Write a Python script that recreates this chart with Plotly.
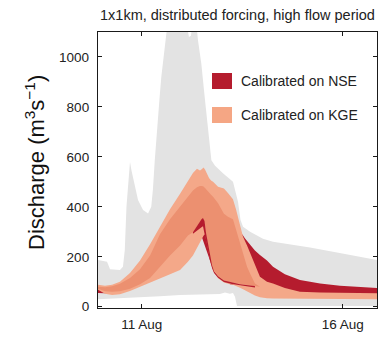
import pandas as pd
import plotly.graph_objects as go

# ---------------- data (hours after 11 Aug 00:00, discharge in m3/s) ----------------
BASE = pd.Timestamp("2013-08-11 00:00")

gray_up_h = [-26.1, -20.7, -18.9, -13.0, -11.2, -10.1, -9.1, -8.0, -7.0, -6.1, -4.2, -2.2, 0.8, 3.8,
             5.7, 6.7, 7.8, 9.1, 10.7, 11.7, 13.7, 15.7, 22.9, 26.4, 28.2, 29.4, 30.6, 32.4, 33.6,
             35.6, 37.6, 39.6, 41.6, 43.8, 48.5, 54.5, 57.5, 59.0, 60.5, 64.7, 72.4, 78.4, 88.5,
             100.5, 114.2, 127.4, 140.5]
gray_up = [187, 180, 150, 147, 160, 227, 400, 510, 580, 545, 493, 427, 387, 373,
           400, 470, 587, 720, 840, 920, 1027, 1150, 1180, 1150, 1080, 1085, 1150, 1150, 1067,
           973, 840, 707, 587, 565, 534, 500, 420, 347, 320, 300, 272, 260, 250,
           237, 220, 203, 187]
gray_lo_h = [-26.1, -13.0, 0.2, 10.9, 22.9, 34.8, 46.7, 49.7, 52.7, 54.5, 55.7, 56.9, 140.5]
gray_lo = [30, 33, 38, 42, 47, 50, 51, 57, 52, 55, 40, 3, 3]

kge_h = [-26.1, -21.9, -17.7, -13.0, -7.0, -1.0, 5.0, 10.9, 16.9, 22.9, 27.6, 30.6, 33.0, 34.8,
         36.0, 36.9, 37.8, 39.0, 40.2, 41.4, 42.6, 45.6, 49.1, 51.5, 54.5, 56.3, 58.7, 60.5,
         62.9, 64.7, 67.6, 70.6, 74.8, 78.4, 85.5, 94.5, 106.5, 118.4, 130.3, 140.5]
kge_up = [88, 84, 88, 100, 135, 185, 250, 320, 390, 452, 500, 535, 553, 545,
          552, 558, 550, 530, 515, 505, 500, 480, 473, 455, 430, 390, 330, 280,
          245, 215, 165, 120, 100, 93, 75, 60, 57, 55, 55, 54]
kge_lo = [68, 52, 47, 50, 63, 77, 95, 113, 130, 147, 180, 205, 235, 258,
          272, 284, 290, 252, 208, 170, 143, 114, 97, 92, 88, 84, 76, 70,
          60, 54, 45, 38, 34, 33, 31, 30, 30, 30, 30, 30]

kge_in_h = kge_h[:32]
kge_in_up = [80, 78, 82, 92, 115, 150, 205, 290, 350, 400, 440, 465, 478, 483,
             483, 481, 475, 465, 455, 448, 440, 414, 372, 360, 350, 310, 250, 213,
             160, 133, 93, 80]
kge_in_lo = [72, 62, 60, 62, 72, 90, 115, 160, 205, 245, 285, 298, 322, 340,
             350, 353, 330, 265, 215, 180, 152, 124, 106, 100, 96, 93, 91, 89,
             87, 86, 84, 80]

nse_h = [-26.1, -21.9, -17.7, -13.0, -7.0, 5.0, 22.9, 34.8, 42.6, 52.7, 58.7, 60.5, 61.7,
         64.7, 67.6, 70.6, 74.8, 78.4, 85.5, 94.5, 106.5, 118.4, 130.3, 140.5]
nse_lo = [55, 54, 56, 60, 72, 115, 245, 300, 150, 90, 84, 80, 78,
          75, 72, 70, 68, 66, 62, 56, 54, 52, 51, 50]
nse_up = [78, 76, 76, 82, 100, 200, 400, 480, 440, 356, 305, 285, 273,
          250, 225, 207, 185, 160, 130, 107, 93, 84, 78, 75]

nse_core_h = [30.6, 32.4, 34.2, 35.7, 36.6, 37.5, 38.4, 39.6, 40.8, 42.0, 43.2, 45.6, 49.1,
              53.9, 58.7, 63.5, 67.6]
nse_core_lo = [292, 300, 310, 318, 322, 303, 265, 224, 184, 155, 135, 116, 99, 91, 85, 81, 77]
nse_core_up = [298, 318, 335, 350, 355, 343, 296, 250, 200, 166, 142, 122, 105, 96, 90, 86, 83]

tick_dates = ["2013-08-11", "2013-08-16"]
tick_text = ["11 Aug", "16 Aug"]
y_ticks = [0, 200, 400, 600, 800, 1000]
legend_names = ["Calibrated on NSE", "Calibrated on KGE"]

# ---------------- style ----------------
C_GRAY = "#e3e3e3"
C_NSE = "#b51c2e"
C_KGE = "#f4a889"
C_KGE_IN = "#ec9070"
FONT = "Liberation Sans, Arial, sans-serif"


def to_time(hours):
    return [BASE + pd.Timedelta(hours=h) for h in hours]


def band(h_up, up, h_lo, lo, color):
    x = to_time(h_up) + to_time(h_lo)[::-1]
    y = list(up) + list(lo)[::-1]
    return go.Scatter(x=x, y=y, fill="toself", fillcolor=color, mode="lines",
                      line=dict(width=0, color=color), hoverinfo="skip", showlegend=False)


fig = go.Figure()
fig.add_trace(band(gray_up_h, gray_up, gray_lo_h, gray_lo, C_GRAY))
fig.add_trace(band(nse_h, nse_up, nse_h, nse_lo, C_NSE))
fig.add_trace(band(kge_h, kge_up, kge_h, kge_lo, C_KGE))
fig.add_trace(band(kge_in_h, kge_in_up, kge_in_h, kge_in_lo, C_KGE_IN))
fig.add_trace(band(nse_core_h, nse_core_up, nse_core_h, nse_core_lo, C_NSE))

W, H = 379, 338
ML, MR, MT, MB = 98, 2, 32, 30
pw, ph = W - ML - MR, H - MT - MB


def px(xp):
    return (xp - ML) / pw


def py(yp):
    return (H - MB - yp) / ph


axis_common = dict(showline=True, linecolor="#1a1a1a", linewidth=1.3, mirror="ticks",
                   ticks="inside", ticklen=4, tickwidth=1.1, tickcolor="#1a1a1a",
                   showgrid=False, zeroline=False,
                   tickfont=dict(family=FONT, size=13.5, color="#222"))

fig.update_xaxes(type="date",
                 range=[BASE + pd.Timedelta(hours=-26.1), BASE + pd.Timedelta(hours=140.5)],
                 tickvals=tick_dates, ticktext=tick_text, ticklabelstandoff=4, **axis_common)
fig.update_yaxes(range=[-5, 1100], tickvals=y_ticks, ticklabelstandoff=5, **axis_common)

shapes = []
annotations = []
for name, color, yc in zip(legend_names, [C_NSE, "#f5a684"], [81, 115]):
    shapes.append(dict(type="rect", xref="paper", yref="paper",
                       x0=px(212), x1=px(232), y0=py(yc + 8), y1=py(yc - 8),
                       fillcolor=color, line=dict(width=0), layer="above"))
    annotations.append(dict(xref="paper", yref="paper", x=px(239), y=py(yc),
                            xanchor="left", yanchor="middle", showarrow=False, text=name,
                            font=dict(family=FONT, size=14, color="#222")))

annotations.append(dict(xref="paper", yref="paper", x=px(237), y=py(15),
                        xanchor="center", yanchor="middle", showarrow=False,
                        text="1x1km, distributed forcing, high flow period",
                        font=dict(family=FONT, size=14.5, color="#222")))
annotations.append(dict(xref="paper", yref="paper", x=px(35), y=py(163),
                        xanchor="center", yanchor="middle", showarrow=False, textangle=-90,
                        text="Discharge (m<sup>3</sup>s<sup>\u22121</sup>)",
                        font=dict(family=FONT, size=22, color="#111")))

fig.update_layout(width=W, height=H, margin=dict(l=ML, r=MR, t=MT, b=MB, pad=0),
                  paper_bgcolor="white", plot_bgcolor="white", showlegend=False,
                  shapes=shapes, annotations=annotations)

fig.write_html("out.html")
